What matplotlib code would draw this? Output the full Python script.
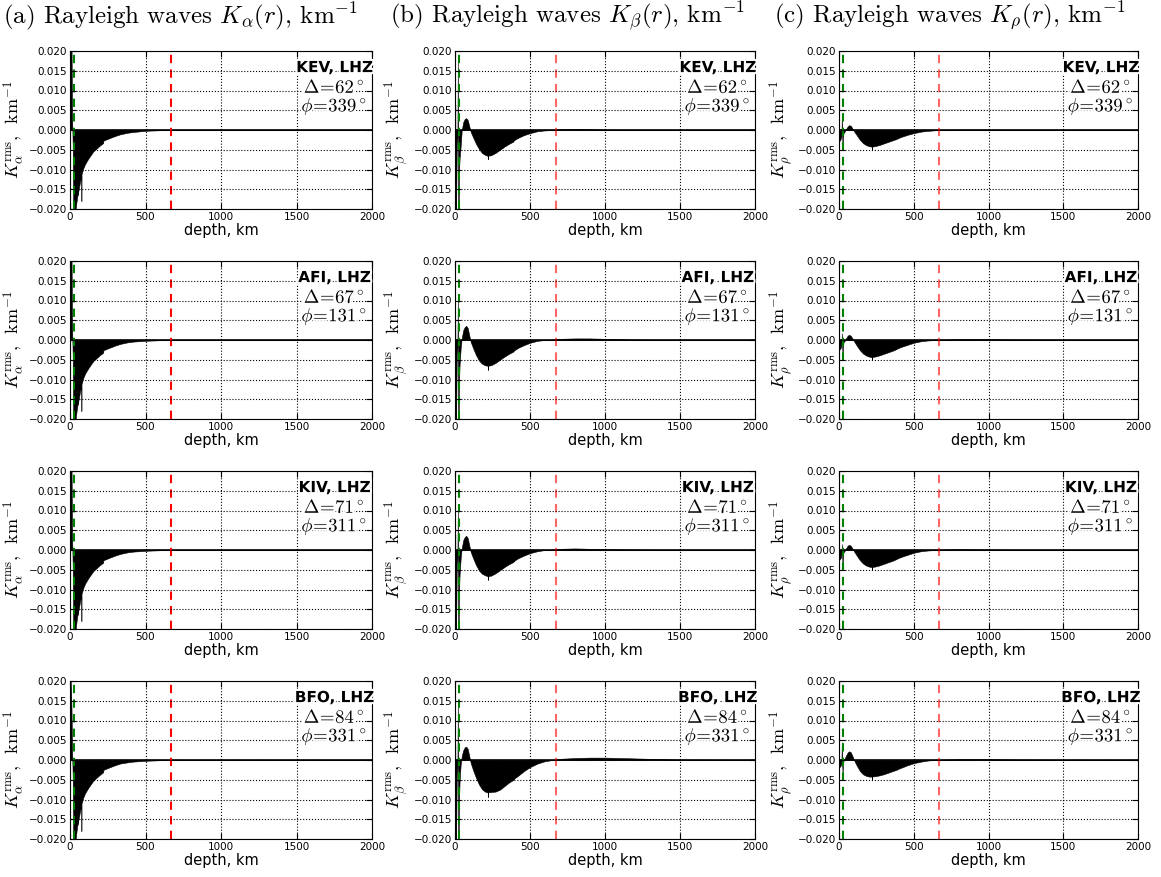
import matplotlib
matplotlib.use("Agg")
import matplotlib.pyplot as plt
import matplotlib.ticker as ticker
import matplotlib.patheffects as pe

plt.rcParams["mathtext.fontset"] = "cm"
plt.rcParams["font.family"] = ["DejaVu Sans"]

# --- станции ---
stations = ["KEV", "AFI", "KIV", "BFO"]
delta = [62, 67, 71, 84]
phi = [339, 131, 311, 331]

moho = 24.4
d670 = 670

# --- (a) K_alpha ---
depth_alpha = [0, 3, 10, 14, 18, 22, 26, 33, 40, 49, 49.5, 50, 60, 66, 75, 75.5, 76,
               88, 100, 122, 155, 199, 220, 221, 240, 266, 300, 332, 380, 420, 500, 600, 2000]
k_alpha_kev = [-0.009, 0.022, 0.022, 0.003, -0.004, -0.023, -0.023, -0.022, -0.019, -0.0166,
               -0.009, -0.0166, -0.0145, -0.0132, -0.0115, -0.018, -0.0113, -0.0097, -0.0086,
               -0.0072, -0.0054, -0.0039, -0.0033, -0.0027, -0.0024, -0.0020, -0.0015, -0.0011,
               -0.0007, -0.0005, -0.0002, -0.00005, 0.0]
k_alpha_afi = [-0.010, 0.022, 0.022, 0.003, -0.004, -0.023, -0.023, -0.022, -0.019, -0.0165,
               -0.009, -0.0165, -0.0145, -0.0131, -0.0114, -0.018, -0.0112, -0.0096, -0.0085,
               -0.0071, -0.0053, -0.0038, -0.0032, -0.0026, -0.0023, -0.0019, -0.0014, -0.0010,
               -0.0006, -0.0004, -0.0002, -0.00005, 0.0]
k_alpha_kiv = [-0.010, 0.022, 0.022, 0.003, -0.004, -0.023, -0.023, -0.022, -0.019, -0.0165,
               -0.009, -0.0165, -0.0145, -0.0131, -0.0114, -0.018, -0.0112, -0.0096, -0.0085,
               -0.0071, -0.0053, -0.0038, -0.0032, -0.0026, -0.0023, -0.0019, -0.0014, -0.0010,
               -0.0006, -0.0004, -0.0002, -0.00005, 0.0]
k_alpha_bfo = [-0.012, 0.022, 0.013, 0.002, -0.004, -0.023, -0.023, -0.022, -0.019, -0.0164,
               -0.009, -0.0164, -0.0143, -0.0130, -0.0113, -0.018, -0.0111, -0.0095, -0.0084,
               -0.0070, -0.0052, -0.0037, -0.0031, -0.0025, -0.0022, -0.0018, -0.0013, -0.0009,
               -0.0006, -0.0004, -0.0002, -0.00005, 0.0]

# --- (b) K_beta ---
depth_beta = [0, 2, 4, 7, 12, 16, 19, 21, 24, 27, 31, 38, 45, 55, 65, 75, 85, 95, 105, 120,
              140, 160, 180, 200, 215, 219, 220, 220.5, 221, 240, 270, 300, 330, 360, 390, 391,
              392, 420, 460, 500, 550, 600, 650, 700, 800, 900, 1000, 1200, 1500, 2000]
k_beta_kev = [0.0, 0.0065, -0.021, -0.021, -0.004, -0.002, 0.018, -0.021, -0.021, -0.010,
              -0.007, -0.004, 0.0, 0.002, 0.0028, 0.003, 0.0025, 0.001, -0.0005, -0.0018,
              -0.0035, -0.0048, -0.0058, -0.0063, -0.0065, -0.0066, -0.0028, -0.0074, -0.0065,
              -0.0064, -0.0058, -0.0050, -0.0042, -0.0035, -0.0029, -0.0020, -0.0026, -0.0020,
              -0.0013, -0.0008, -0.0003, -0.0001, 0.0, 0.0002, 0.0003, 0.0002, 0.0001, 0.00003,
              0.0, 0.0]
k_beta_afi = [0.0, 0.0039, -0.021, -0.021, -0.004, -0.002, 0.0112, -0.021, -0.021, -0.010,
              -0.006, -0.002, 0.0005, 0.0025, 0.0033, 0.0036, 0.0030, 0.0012, -0.0005, -0.0020,
              -0.0038, -0.0052, -0.0060, -0.0064, -0.0065, -0.0065, -0.0028, -0.0076, -0.0065,
              -0.0064, -0.0058, -0.0050, -0.0042, -0.0035, -0.0029, -0.0019, -0.0027, -0.0020,
              -0.0013, -0.0007, -0.0002, 0.0, 0.0001, 0.0003, 0.0004, 0.0004, 0.0003, 0.0001,
              0.0, 0.0]
k_beta_kiv = [0.0, 0.0039, -0.021, -0.021, -0.004, -0.002, 0.0112, -0.021, -0.021, -0.010,
              -0.006, -0.002, 0.0005, 0.0025, 0.0033, 0.0036, 0.0030, 0.0012, -0.0005, -0.0020,
              -0.0038, -0.0052, -0.0060, -0.0064, -0.0066, -0.0066, -0.0028, -0.0076, -0.0066,
              -0.0065, -0.0059, -0.0051, -0.0043, -0.0036, -0.0030, -0.0019, -0.0028, -0.0021,
              -0.0014, -0.0008, -0.0003, 0.0, 0.0001, 0.0003, 0.0004, 0.0003, 0.0002, 0.0001,
              0.0, 0.0]
k_beta_bfo = [0.0, 0.0038, -0.021, -0.021, -0.004, -0.002, 0.015, -0.021, -0.021, -0.010,
              -0.005, -0.001, 0.001, 0.0025, 0.0032, 0.0034, 0.0028, 0.001, -0.0008, -0.0025,
              -0.0045, -0.0062, -0.0074, -0.0080, -0.0082, -0.0082, -0.0052, -0.0094, -0.0082,
              -0.0081, -0.0080, -0.0075, -0.0066, -0.0057, -0.0050, -0.0018, -0.0048, -0.0040,
              -0.0028, -0.0018, -0.0009, -0.0003, 0.0, 0.0003, 0.0005, 0.0006, 0.0006, 0.0004,
              0.0001, 0.0]

# --- (c) K_rho ---
depth_rho = [0, 3, 8, 12, 16, 19, 21, 24, 26, 30, 38, 48, 58, 67, 78, 90, 100, 120, 140, 160,
             180, 200, 215, 219, 220, 220.5, 221, 240, 270, 300, 330, 360, 390, 391, 392, 420,
             460, 500, 550, 600, 650, 700, 800, 1000, 1200, 2000]
k_rho_kev = [-0.0025, -0.0028, -0.0025, -0.0022, -0.0015, 0.0035, -0.0008, -0.005, -0.002,
             -0.0008, -0.0004, 0.0003, 0.0009, 0.0012, 0.0011, 0.0004, -0.0003, -0.0014, -0.0025,
             -0.0033, -0.0038, -0.0041, -0.0042, -0.0042, -0.0030, -0.0049, -0.0042, -0.0041,
             -0.0038, -0.0034, -0.0030, -0.0026, -0.0022, -0.0015, -0.0021, -0.0017, -0.0012,
             -0.0008, -0.0004, -0.0002, -0.00005, 0.0, 0.0001, 0.0001, 0.00003, 0.0]
k_rho_afi = [-0.0020, -0.0024, -0.0022, -0.0020, -0.0012, 0.0017, -0.0008, -0.005, -0.002,
             -0.0006, -0.0002, 0.0005, 0.0011, 0.0013, 0.0011, 0.0004, -0.0003, -0.0015, -0.0026,
             -0.0034, -0.0039, -0.0042, -0.0043, -0.0043, -0.0030, -0.0049, -0.0043, -0.0042,
             -0.0039, -0.0035, -0.0031, -0.0027, -0.0022, -0.0015, -0.0021, -0.0017, -0.0012,
             -0.0007, -0.0003, -0.0001, 0.0, 0.0001, 0.0002, 0.0002, 0.0001, 0.0]
k_rho_kiv = [-0.0020, -0.0024, -0.0022, -0.0020, -0.0012, 0.0015, -0.0008, -0.005, -0.002,
             -0.0006, -0.0002, 0.0005, 0.0011, 0.0013, 0.0011, 0.0004, -0.0003, -0.0015, -0.0026,
             -0.0034, -0.0039, -0.0042, -0.0043, -0.0043, -0.0030, -0.0049, -0.0043, -0.0042,
             -0.0039, -0.0035, -0.0031, -0.0027, -0.0022, -0.0015, -0.0021, -0.0017, -0.0012,
             -0.0007, -0.0003, -0.0001, 0.0, 0.0001, 0.0002, 0.0001, 0.00005, 0.0]
k_rho_bfo = [-0.0015, -0.0018, -0.0016, -0.0014, -0.0008, 0.0045, -0.0006, -0.004, -0.0015,
             -0.0002, 0.0004, 0.0012, 0.0019, 0.0022, 0.0020, 0.0010, 0.0, -0.0015, -0.0028,
             -0.0036, -0.0040, -0.0042, -0.0042, -0.0042, -0.0030, -0.0050, -0.0042, -0.0041,
             -0.0039, -0.0036, -0.0032, -0.0028, -0.0024, -0.0015, -0.0023, -0.0019, -0.0013,
             -0.0008, -0.0004, -0.0001, 0.0, 0.0001, 0.0002, 0.0002, 0.0001, 0.0]

columns = [
    (depth_alpha, [k_alpha_kev, k_alpha_afi, k_alpha_kiv, k_alpha_bfo], r"\alpha", "a"),
    (depth_beta, [k_beta_kev, k_beta_afi, k_beta_kiv, k_beta_bfo], r"\beta", "b"),
    (depth_rho, [k_rho_kev, k_rho_afi, k_rho_kiv, k_rho_bfo], r"\rho", "c"),
]

# --- раскладка в пикселях ---
W, H = 1161, 877
col_left = [70, 455, 839]
col_width = [302, 300, 299]
row_top = [51, 261, 471, 681]
row_h = 158
title_x = [3, 390, 774]


def fmt(v, pos):
    if abs(v) < 1e-9:
        v = 0.0
    return f"{v:.3f}".replace("-", "\u2212")


fig = plt.figure(figsize=(W / 100, H / 100), dpi=100)
halo = [pe.withStroke(linewidth=3, foreground="w")]

for j, (depth, kern, sym, letter) in enumerate(columns):
    fig.text(title_x[j] / W, 1 - 16 / H,
             rf"({letter}) Rayleigh waves $K_{{{sym}}}(r)$, km$^{{-1}}$",
             family="cmr10", fontsize=18, va="center", ha="left")
    for i in range(4):
        ax = fig.add_axes([col_left[j] / W, 1 - (row_top[i] + row_h) / H,
                           col_width[j] / W, row_h / H])
        ax.fill_between(depth, 0, kern[i], facecolor="k", edgecolor="k", lw=0.4)
        ax.axhline(0, color="k", lw=1.2)
        ax.axvline(moho, color="g", ls="--", lw=1.5, dashes=(4, 3))
        ax.axvline(d670, color="r", ls="--", lw=1.5, dashes=(4, 3),
                   alpha=1.0 if j == 0 else 0.6)
        ax.set_xlim(0, 2000)
        ax.set_ylim(-0.02, 0.02)
        ax.set_xticks([0, 500, 1000, 1500, 2000])
        ax.set_yticks([-0.02, -0.015, -0.01, -0.005, 0, 0.005, 0.01, 0.015, 0.02])
        ax.yaxis.set_major_formatter(ticker.FuncFormatter(fmt))
        ax.tick_params(direction="in", top=True, right=True, labelsize=7.5,
                       length=4, pad=2)
        ax.grid(True, ls=":", color="k", lw=0.8)
        ax.set_axisbelow(False)
        ax.set_xlabel("depth, km", fontsize=10.5, labelpad=1)
        ax.set_ylabel(rf"$K_{{{sym}}}^{{\rm rms}}$,  km$^{{-1}}$",
                      family="cmr10", fontsize=13, labelpad=2)

        ax.text(0.875, 0.895, f"{stations[i]}, LHZ", transform=ax.transAxes,
                ha="center", va="center", fontsize=11, fontweight="bold",
                path_effects=halo)
        ax.text(0.875, 0.77, rf"$\Delta\!=\!{delta[i]}^\circ$", transform=ax.transAxes,
                ha="center", va="center", fontsize=13.5, path_effects=halo)
        ax.text(0.875, 0.65, rf"$\phi\!=\!{phi[i]}^\circ$", transform=ax.transAxes,
                ha="center", va="center", fontsize=13.5, path_effects=halo)

plt.savefig("out.png", dpi=100)
